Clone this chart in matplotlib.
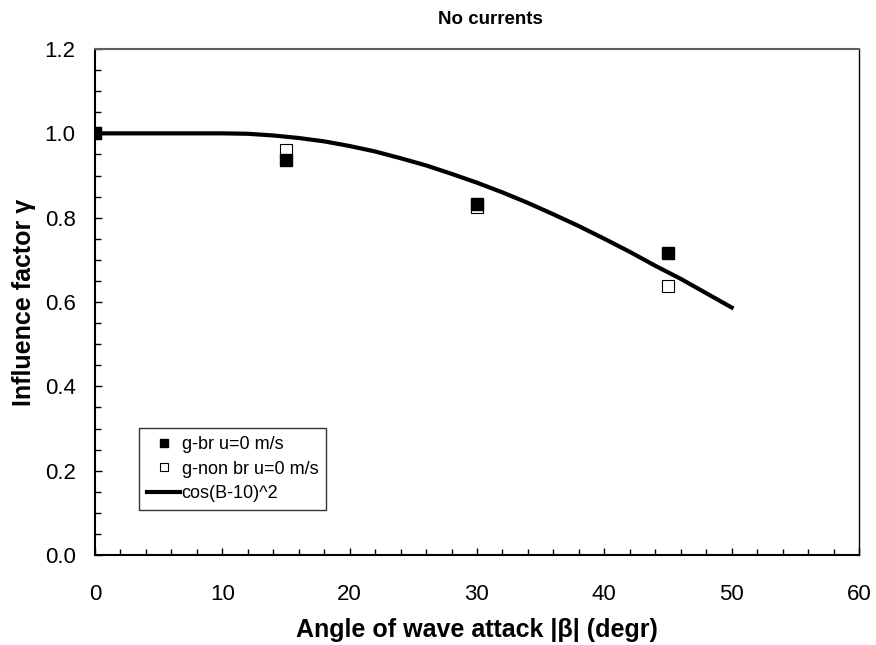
import matplotlib
matplotlib.use('Agg')
import matplotlib.pyplot as plt
import numpy as np
from matplotlib.ticker import MultipleLocator

plt.rcParams['font.family'] = ['Liberation Sans', 'DejaVu Sans']

# measured points
beta = [0, 15, 30, 45]
gamma_br = [1.0, 0.937, 0.833, 0.716]      # g-br u=0 m/s (filled)
gamma_nonbr = [1.0, 0.960, 0.826, 0.638]   # g-non br u=0 m/s (open)

# fitted curve cos(B-10)^2
beta_fit = [0, 2, 4, 6, 8, 10, 12, 14, 16, 18, 20, 22, 24, 26, 28, 30,
            32, 34, 36, 38, 40, 42, 44, 46, 48, 50]
gamma_fit = [1.0, 1.0, 1.0, 1.0, 1.0, 1.0, 0.999, 0.995, 0.989, 0.981,
             0.970, 0.957, 0.941, 0.924, 0.904, 0.883, 0.860, 0.835,
             0.808, 0.780, 0.750, 0.719, 0.686, 0.655, 0.621, 0.587]

fig = plt.figure(figsize=(8.76, 6.45), dpi=100)
ax = fig.add_axes([0.1084, 0.1395, 0.8722, 0.7845])

ax.plot(beta_fit, gamma_fit, color='black', lw=3, label='cos(B-10)^2', zorder=2)
ax.plot(beta, gamma_br, 's', color='black', ms=8.5, label='g-br u=0 m/s', zorder=4)
ax.plot(beta, gamma_nonbr, 's', mfc='white', mec='black', mew=0.8, ms=8,
        label='g-non br u=0 m/s', zorder=3)

ax.set_xlim(0, 60)
ax.set_ylim(0, 1.2)
ax.xaxis.set_major_locator(MultipleLocator(10))
ax.xaxis.set_minor_locator(MultipleLocator(2))
ax.yaxis.set_major_locator(MultipleLocator(0.2))
ax.yaxis.set_minor_locator(MultipleLocator(0.05))
ax.yaxis.set_major_formatter(plt.FormatStrFormatter('%.1f'))

ax.tick_params(which='both', direction='in', top=False, right=False, width=1)
ax.tick_params(which='major', length=5, labelsize=16)
ax.tick_params(axis='x', which='major', pad=21)
ax.tick_params(axis='y', which='major', pad=14)
ax.tick_params(which='minor', length=4.5)

for s in ['left', 'bottom']:
    ax.spines[s].set_linewidth(1.5)
ax.spines['top'].set_color('#606060')
ax.spines['top'].set_linewidth(1.5)
ax.spines['right'].set_linewidth(1)

ax.set_xlabel('Angle of wave attack |β| (degr)', fontsize=18, fontweight='bold', labelpad=9)
ax.set_ylabel('Influence factor γ', fontsize=18, fontweight='bold', labelpad=6)
fig.text(490 / 876, 1 - 19 / 645, 'No currents', fontsize=13.5, fontweight='bold',
         ha='center', va='center')

handles, labels = ax.get_legend_handles_labels()
order = [1, 2, 0]
leg = ax.legend([handles[i] for i in order], [labels[i] for i in order],
                loc='lower left', bbox_to_anchor=(0.058, 0.089), borderaxespad=0,
                fontsize=13, frameon=True, fancybox=False, edgecolor='black',
                handlelength=1.8, handletextpad=0.1, labelspacing=0.4,
                markerscale=0.75, borderpad=0.45)
leg.get_frame().set_linewidth(1)

fig.savefig('out.png', dpi=100)
